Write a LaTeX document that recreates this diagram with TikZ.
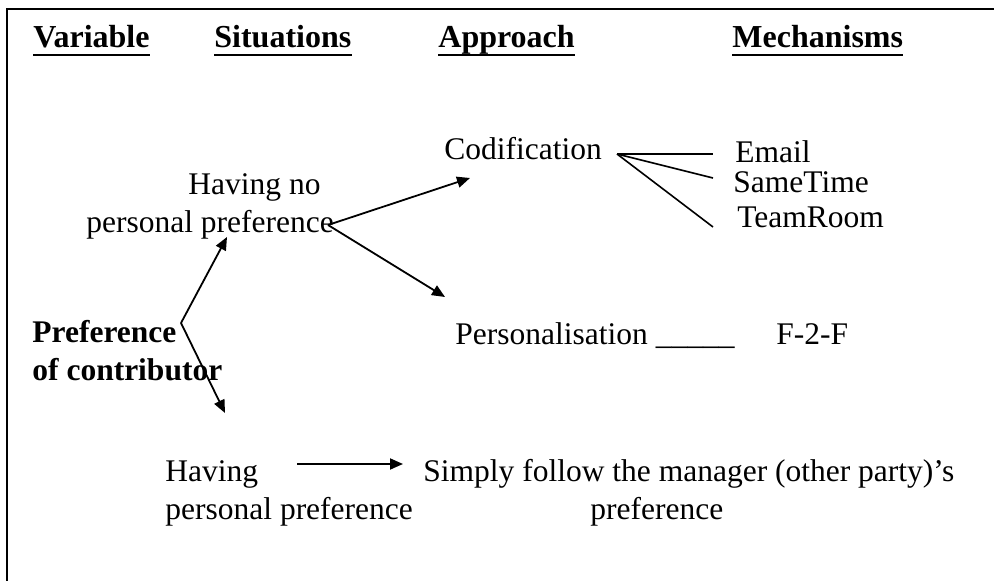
\documentclass[tikz,border=0pt]{standalone}
\usepackage{fontspec}
\setmainfont{Liberation Serif}
\usetikzlibrary{arrows.meta}
\begin{document}
\begin{tikzpicture}[x=0.5pt,y=-0.5pt,
  txt/.style={inner sep=0pt,anchor=base west,font=\fontsize{15.75pt}{18pt}\selectfont},
  bold/.style={txt,font=\fontsize{15.75pt}{18pt}\selectfont\bfseries},
  head/.style={inner sep=0pt,anchor=base west,font=\fontsize{16pt}{18pt}\selectfont\bfseries},
  arr/.style={line width=0.9pt,-{Triangle[length=6.5pt,width=5.5pt]}},
  ln/.style={line width=0.8pt},
  frame/.style={line width=0.9pt}]
\useasboundingbox (0,0) rectangle (994,581);
% frame
\coordinate (fl) at (7,581);
\coordinate (fc) at (7,9);
\coordinate (fr) at (994,9);
\draw[frame] (fl) -- (fc) -- (fr);
% headings
\node[head] (hv) at (33,48) {Variable};
\node[head] (hs) at (214,48) {Situations};
\node[head] (ha) at (438,48) {Approach};
\node[head] (hm) at (732,48) {Mechanisms};
\foreach \n in {hv,hs,ha,hm}
  \draw[line width=1pt] ([yshift=-3.6pt]\n.base west) -- ([yshift=-3.6pt]\n.base east);
% body
\node[txt] (cod) at (444,160) {Codification};
\node[txt] (em) at (735,163) {Email};
\node[txt] (st) at (733,193) {SameTime};
\node[txt] (tr) at (737,228) {TeamRoom};
\node[txt] (hn1) at (188,195) {Having no};
\node[txt] (hn2) at (86,233) {personal preference};
\node[bold] (pc1) at (32,343) {Preference};
\node[bold] (pc2) at (32,381) {of contributor};
\node[txt] (pers) at (455,345) {Personalisation \_\_\_\_\_};
\node[txt] (f2f) at (776,345) {F-2-F};
\node[txt] (hp1) at (165,482) {Having};
\node[txt] (hp2) at (165,519) {personal preference};
\node[txt] (sf1) at (423,482) {Simply follow the manager (other party)'s};
\node[txt] (sf2) at (590,519) {preference};
% connectors
\coordinate (v1) at (181,323);
\coordinate (t1) at (227,237);
\coordinate (t2) at (225,413);
\draw[arr] (v1) -- (t1);
\draw[arr] (v1) -- (t2);
\coordinate (v2) at (328,225);
\coordinate (t3) at (470,178);
\coordinate (t4) at (445,297);
\draw[arr] (v2) -- (t3);
\draw[arr] (v2) -- (t4);
\coordinate (v3) at (617,154);
\coordinate (e1) at (713,154);
\coordinate (e2) at (713,178);
\coordinate (e3) at (713,227);
\draw[ln] (v3) -- (e1);
\draw[ln] (v3) -- (e2);
\draw[ln] (v3) -- (e3);
\coordinate (a5) at (297,464);
\coordinate (b5) at (403,464);
\draw[arr] (a5) -- (b5);
\end{tikzpicture}
\end{document}
